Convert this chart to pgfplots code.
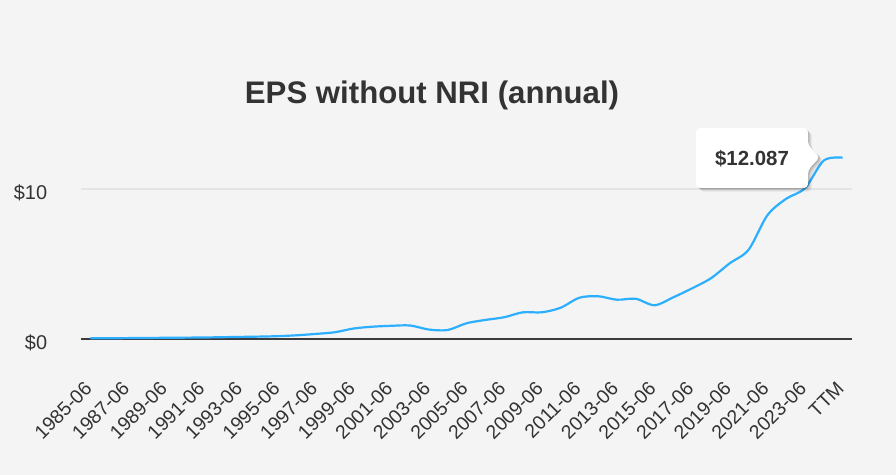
\documentclass[border=0pt]{standalone}
\usepackage{pgfplots}
\pgfplotsset{compat=1.18}
\usepackage{fontspec}
\setmainfont{Liberation Sans}

\definecolor{bg}{HTML}{F4F4F4}
\definecolor{txt}{HTML}{333333}
\definecolor{gridc}{HTML}{E4E4E4}
\definecolor{epsline}{HTML}{2CAFFE}
\definecolor{zeroc}{HTML}{3C3C3C}

% annual EPS without NRI, index 0 = 1985-06, 39 = 2024-06, 40 = TTM
\pgfplotstableread{
i   eps
0   0.05
1   0.05
2   0.06
3   0.07
4   0.08
5   0.09
6   0.10
7   0.12
8   0.14
9   0.16
10  0.19
11  0.25
12  0.34
13  0.45
14  0.70
15  0.82
16  0.88
17  0.90
18  0.63
19  0.60
20  1.05
21  1.27
22  1.45
23  1.78
24  1.78
25  2.08
26  2.75
27  2.85
28  2.62
29  2.68
30  2.25
31  2.78
32  3.38
33  4.05
34  5.05
35  5.95
36  8.25
37  9.35
38  10.05
39  11.90
40  12.087
}\epsdata

\begin{document}
\begin{tikzpicture}
\fill[bg] (-81bp,-136bp) rectangle (815bp,339bp);

\begin{axis}[
  scale only axis,
  width=771bp, height=210bp,
  xmin=-0.5, xmax=40.5,
  ymin=0, ymax=14,
  clip=false,
  axis line style={draw=none},
  major tick length=0pt,
  ytick={0,10},
  yticklabels={\$0,\$10},
  xtick={0,2,...,40},
  xticklabels={1985-06,1987-06,1989-06,1991-06,1993-06,1995-06,1997-06,1999-06,
    2001-06,2003-06,2005-06,2007-06,2009-06,2011-06,2013-06,2015-06,2017-06,
    2019-06,2021-06,2023-06,TTM},
  ymajorgrids,
  grid style={line width=1.2bp, color=gridc},
  yticklabel style={font=\fontsize{20}{24}\selectfont, text=txt,
    anchor=east, inner sep=0pt, xshift=-33.7bp, yshift=-3.5bp},
  xticklabel style={font=\fontsize{19.5}{23}\selectfont, text=txt,
    inner sep=0pt, xshift=-2bp, yshift=-46bp, anchor=east, rotate=45},
]
\draw[zeroc, line width=1.8bp] (axis cs:-0.5,0) -- (axis cs:40.5,0);
\addplot[epsline, line width=2.2bp, smooth, no marks] table[x=i, y=eps] {\epsdata};
\end{axis}

\node[anchor=base, text=txt, font=\fontsize{31.3}{36}\selectfont\bfseries]
  at (351bp,235.7bp) {EPS without NRI (annual)};

% tooltip
\begin{scope}[x=1bp, y=1bp]
  \foreach \d/\o in {4/0.04, 3/0.06, 2/0.09, 1/0.12} {
    \fill[black, opacity=\o, rounded corners=4]
      ([shift={(\d,-\d)}]615,151) -- ([shift={(\d,-\d)}]727,151) -- ([shift={(\d,-\d)}]727,169)
      -- ([shift={(\d,-\d)}]739,182) -- ([shift={(\d,-\d)}]727,194) -- ([shift={(\d,-\d)}]727,211)
      -- ([shift={(\d,-\d)}]615,211) -- cycle;
  }
  \fill[white, rounded corners=4]
    (615,151) -- (727,151) -- (727,169) -- (739,182) -- (727,194) -- (727,211) -- (615,211) -- cycle;
  \node[text=txt, font=\fontsize{20.5}{24}\selectfont\bfseries] at (671,180.5) {\$12.087};
\end{scope}

\pgfresetboundingbox
\path (-81bp,-136bp) rectangle (815bp,339bp);
\end{tikzpicture}
\end{document}
